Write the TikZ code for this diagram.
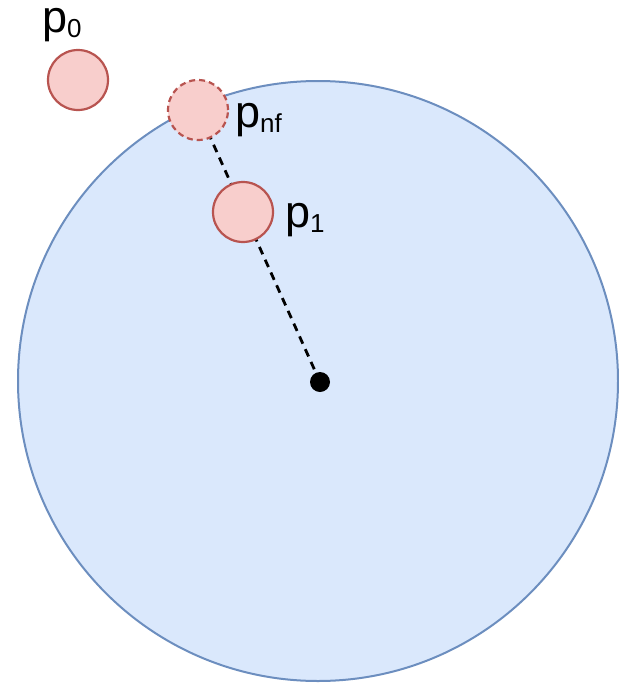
\documentclass[tikz,border=0pt]{standalone}
\usepackage{fontspec}
\setmainfont{Liberation Sans}
\usepackage{tikz}
\definecolor{zoneFill}{HTML}{DAE8FC}
\definecolor{zoneLine}{HTML}{6C8EBF}
\definecolor{ptFill}{HTML}{F8CECC}
\definecolor{ptLine}{HTML}{B85450}
\newcommand{\ptsub}[1]{\raisebox{-5pt}{\fontsize{26}{26}\selectfont #1}}

\begin{document}
\begin{tikzpicture}[x=1pt, y=-1pt,
  point/.style={circle, draw=ptLine, fill=ptFill, line width=2.2pt, minimum size=60pt, inner sep=0pt},
  ptlabel/.style={font=\fontsize{45}{46}\selectfont, inner sep=0pt, text height=24pt, anchor=base west}]
  \useasboundingbox (0,0) rectangle (619,686);
  % zone
  \node[circle, draw=zoneLine, fill=zoneFill, line width=2pt, minimum size=600pt, inner sep=0pt] (zone) at (318,381) {};
  \fill (320,382) circle (10pt) coordinate (centre);
  \coordinate (ctr) at (320,382);
  \coordinate (nf) at (198,110);
  \draw[line width=2.8pt, dash pattern=on 8pt off 6pt] (ctr) -- (nf);
  % points
  \node[point] (p0) at (78,80) {};
  \node[point, dashed, dash pattern=on 6pt off 4pt] (pnf) at (nf) {};
  \node[point] (p1) at (243,212) {};
  % labels
  \node[ptlabel] (lbl0) at (42,32) {p\ptsub{0}};
  \node[ptlabel] (lblnf) at (235,127) {p\ptsub{nf}};
  \node[ptlabel] (lbl1) at (285,227) {p\ptsub{1}};
\end{tikzpicture}
\end{document}
